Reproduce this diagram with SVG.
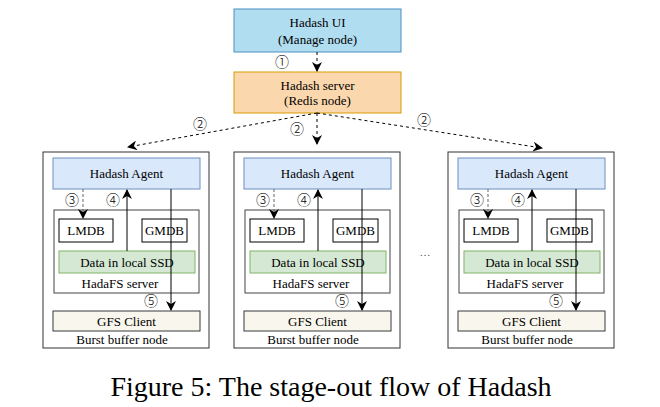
<svg xmlns="http://www.w3.org/2000/svg" width="660" height="407" viewBox="0 0 660 407">
<defs>
<style>
text{font-family:"Liberation Serif","Times New Roman",serif;font-size:13px;fill:#000;text-anchor:middle}
.num{font-family:"Noto Sans CJK SC","DejaVu Sans",sans-serif;font-size:14px;font-weight:300}
.cap{font-size:28px}
.ui{fill:#b1ddf0;stroke:#4a90c0;stroke-width:1}
.srv{fill:#fad7ac;stroke:#d79b00;stroke-width:1}
.outer{fill:#fff;stroke:#333;stroke-width:1}
.agent{fill:#dae8fc;stroke:#6c8ebf;stroke-width:1}
.fs{fill:#fff;stroke:#444;stroke-width:1}
.db{fill:#fff;stroke:#000;stroke-width:1}
.ssd{fill:#d5e8d4;stroke:#82b366;stroke-width:1}
.gfs{fill:#f9f7ed;stroke:#36393d;stroke-width:1}
.dash{fill:none;stroke:#000;stroke-width:1;stroke-dasharray:3 3}
.dashg{fill:none;stroke:#666;stroke-width:1;stroke-dasharray:3 2}
.solid{fill:none;stroke:#000;stroke-width:1}
</style>
<marker id="ah" markerWidth="10" markerHeight="10" refX="9" refY="5" orient="auto" markerUnits="userSpaceOnUse" viewBox="0 0 10 10">
<path d="M0,0 L10,5 L0,10 L3,5 z" fill="#000"/>
</marker>
</defs>
<rect width="660" height="407" fill="#fff"/>

<g id="hadash-ui">
<rect class="ui" x="234" y="9" width="167" height="43"/>
<text x="317.5" y="27">Hadash UI</text>
<text x="317.5" y="44">(Manage node)</text>
</g>

<g id="hadash-server">
<rect class="srv" x="234" y="72" width="167" height="41"/>
<text x="317.5" y="90">Hadash server</text>
<text x="317.5" y="105">(Redis node)</text>
</g>

<g id="bb-node-1">
<rect class="outer" x="43" y="152" width="166" height="196"/>
<g id="bb1-agent"><rect class="agent" x="53" y="158" width="147" height="31"/><text x="126.5" y="178">Hadash Agent</text></g>
<g id="bb1-hadafs"><rect class="fs" x="54" y="210" width="145" height="83"/><text x="120" y="288">HadaFS server</text></g>
<g id="bb1-lmdb"><rect class="db" x="59" y="219" width="54" height="23"/><text x="86" y="235">LMDB</text></g>
<g id="bb1-gmdb"><rect class="db" x="142" y="219" width="45" height="23"/><text x="164.5" y="235">GMDB</text></g>
<g id="bb1-ssd"><rect class="ssd" x="59" y="251" width="136" height="22"/><text x="127" y="267">Data in local SSD</text></g>
<g id="bb1-gfs"><rect class="gfs" x="53" y="311" width="147" height="20"/><text x="126.5" y="325.5">GFS Client</text></g>
<text x="122" y="344">Burst buffer node</text>
</g>

<g id="bb-node-2" transform="translate(191,0)">
<rect class="outer" x="43" y="152" width="166" height="196"/>
<g id="bb2-agent"><rect class="agent" x="53" y="158" width="147" height="31"/><text x="126.5" y="178">Hadash Agent</text></g>
<g id="bb2-hadafs"><rect class="fs" x="54" y="210" width="145" height="83"/><text x="120" y="288">HadaFS server</text></g>
<g id="bb2-lmdb"><rect class="db" x="59" y="219" width="54" height="23"/><text x="86" y="235">LMDB</text></g>
<g id="bb2-gmdb"><rect class="db" x="142" y="219" width="45" height="23"/><text x="164.5" y="235">GMDB</text></g>
<g id="bb2-ssd"><rect class="ssd" x="59" y="251" width="136" height="22"/><text x="127" y="267">Data in local SSD</text></g>
<g id="bb2-gfs"><rect class="gfs" x="53" y="311" width="147" height="20"/><text x="126.5" y="325.5">GFS Client</text></g>
<text x="122" y="344">Burst buffer node</text>
</g>

<g id="bb-node-3" transform="translate(405,0)">
<rect class="outer" x="43" y="152" width="166" height="196"/>
<g id="bb3-agent"><rect class="agent" x="53" y="158" width="147" height="31"/><text x="126.5" y="178">Hadash Agent</text></g>
<g id="bb3-hadafs"><rect class="fs" x="54" y="210" width="145" height="83"/><text x="120" y="288">HadaFS server</text></g>
<g id="bb3-lmdb"><rect class="db" x="59" y="219" width="54" height="23"/><text x="86" y="235">LMDB</text></g>
<g id="bb3-gmdb"><rect class="db" x="142" y="219" width="45" height="23"/><text x="164.5" y="235">GMDB</text></g>
<g id="bb3-ssd"><rect class="ssd" x="59" y="251" width="136" height="22"/><text x="127" y="267">Data in local SSD</text></g>
<g id="bb3-gfs"><rect class="gfs" x="53" y="311" width="147" height="20"/><text x="126.5" y="325.5">GFS Client</text></g>
<text x="122" y="344">Burst buffer node</text>
</g>

<text x="425" y="256" style="font-size:11px;fill:#555">…</text>

<g id="connectors">
<path class="dash" d="M317,52 V71" marker-end="url(#ah)"/>
<path class="dash" d="M317,113 L128,147" marker-end="url(#ah)"/>
<path class="dash" d="M317,113 V144" marker-end="url(#ah)"/>
<path class="dash" d="M317,113 L542,148" marker-end="url(#ah)"/>
<g id="bb1-links">
<path class="dashg" d="M83,189 V218" marker-end="url(#ah)"/>
<path class="solid" d="M127,251 V190" marker-end="url(#ah)"/>
<path class="solid" d="M171,189 V310" marker-end="url(#ah)"/>
</g>
<g id="bb2-links" transform="translate(191,0)">
<path class="dashg" d="M83,189 V218" marker-end="url(#ah)"/>
<path class="solid" d="M127,251 V190" marker-end="url(#ah)"/>
<path class="solid" d="M171,189 V310" marker-end="url(#ah)"/>
</g>
<g id="bb3-links" transform="translate(405,0)">
<path class="dashg" d="M83,189 V218" marker-end="url(#ah)"/>
<path class="solid" d="M127,251 V190" marker-end="url(#ah)"/>
<path class="solid" d="M171,189 V310" marker-end="url(#ah)"/>
</g>
</g>

<g id="labels">
<text class="num" x="282" y="67">①</text>
<text class="num" x="200" y="129">②</text>
<text class="num" x="297" y="134">②</text>
<text class="num" x="424" y="125">②</text>
<text class="num" x="72" y="205">③</text>
<text class="num" x="113" y="205">④</text>
<text class="num" x="151" y="306">⑤</text>
<text class="num" x="263" y="205">③</text>
<text class="num" x="304" y="205">④</text>
<text class="num" x="342" y="306">⑤</text>
<text class="num" x="477" y="205">③</text>
<text class="num" x="518" y="205">④</text>
<text class="num" x="556" y="306">⑤</text>
</g>

<text class="cap" x="331" y="396">Figure 5: The stage-out flow of Hadash</text>
</svg>
